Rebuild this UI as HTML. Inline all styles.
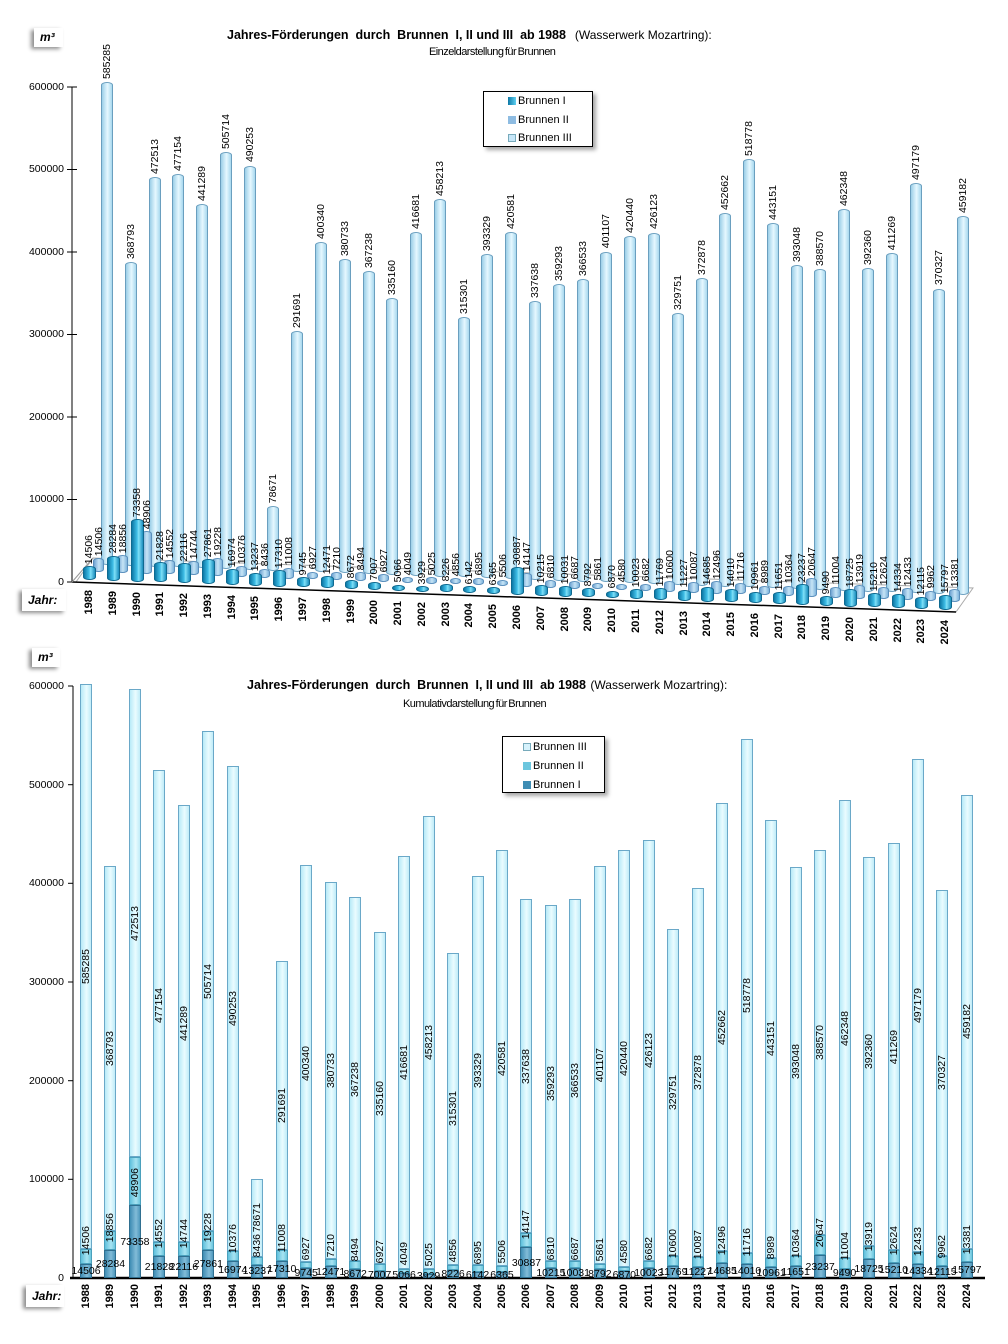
<!DOCTYPE html>
<html><head><meta charset="utf-8">
<style>
*{margin:0;padding:0;box-sizing:border-box}
body{width:1008px;height:1344px;background:#fff;position:relative;overflow:hidden;font-family:"Liberation Sans",Arial,sans-serif;color:#000}
.abs{position:absolute}
.box{position:absolute;background:#fff;box-shadow:-3px 2px 4px rgba(0,0,0,.45);font-style:italic;font-weight:bold}
.tk{position:absolute;font-size:10.5px;width:60px;text-align:right;line-height:12px}
/* top chart */
.g{position:absolute;left:calc(83px + var(--i)*23.78px);top:calc(580px + var(--i)*0.83px);width:0;height:0}
.b{position:absolute;bottom:0;border-radius:6px/3px}
.b1{left:0;width:13px;height:calc(var(--a)*0.000825px + 2px);background:linear-gradient(to right,#0d78a6,#3fbde6 45%,#7fe0f8 60%,#1c8fbe);border:1px solid #0f6a90}
.b2{left:10px;bottom:8px;width:11px;height:calc(var(--b)*0.000825px + 2px);background:linear-gradient(to right,#6fa4d2,#c6e4f6 55%,#7fb4dc);border:1px solid #5a8fbd}
.b3{left:18px;bottom:15px;width:12px;height:calc(var(--c)*0.000825px);background:linear-gradient(to right,#9ccfe8,#e6f8ff 55%,#a8d8ee);border:1px solid #6a9fbf}
.l{position:absolute;writing-mode:vertical-rl;transform:rotate(180deg);font-size:10.5px;line-height:12px;width:12px;white-space:nowrap}
.l1{left:0;bottom:calc(var(--a)*0.000825px + 4px)}
.l2{left:10px;bottom:calc(var(--b)*0.000825px + 12px)}
.l3{left:18px;bottom:calc(var(--c)*0.000825px + 18px)}
.y{position:absolute;writing-mode:vertical-rl;transform:rotate(180deg);font-size:11px;font-weight:bold;line-height:13px;width:13px;left:0;white-space:nowrap}
.g .y{top:10px}
/* bottom chart */
.h{position:absolute;left:calc(80px + var(--i)*24.47px);top:1278px;width:0;height:0}
.s{position:absolute;left:0;width:12px}
.s1{bottom:0;height:calc(var(--a)*0.00099px);background:linear-gradient(to right,#3f8db4,#82bcd8 60%,#4e98bd);border:1px solid #2f6f90}
.s2{bottom:calc(var(--a)*0.00099px);height:calc(var(--b)*0.00099px);background:linear-gradient(to right,#5fc0dc,#a8e4f2 60%,#6cc6de);border:1px solid #4aa0bc}
.s3{bottom:calc((var(--a) + var(--b))*0.00099px);height:calc(var(--c)*0.00099px);background:linear-gradient(to right,#b8eaf8,#eafcff 55%,#c0ecf8);border:1px solid #6aa8c8}
.m{position:absolute;left:0;width:12px;display:flex;align-items:center;justify-content:center}
.m span{writing-mode:vertical-rl;transform:rotate(180deg);font-size:10.5px;line-height:12px;white-space:nowrap}
.m3{bottom:calc((var(--a) + var(--b))*0.00099px);height:calc(var(--c)*0.00099px)}
.m2{bottom:calc(var(--a)*0.00099px + 8px);height:0;align-items:flex-end}
.n{position:absolute;left:-14px;width:40px;text-align:center;font-size:10.5px;line-height:12px;bottom:calc(var(--a)*0.000495px - 6px);white-space:nowrap}
.h .y{top:6px;left:0}
.lg{position:absolute;border:1px solid #000;background:#fff;box-shadow:3px 3px 4px rgba(0,0,0,.35);font-size:11px}
.lg div{position:absolute;left:0;white-space:nowrap}
.sw{display:inline-block;width:8px;height:8px;margin:0 2px 0 0;vertical-align:-1px}
.ti{font-size:12.5px;font-weight:bold}
.tp{font-size:12px}
.st{font-size:11px;letter-spacing:-0.55px;word-spacing:-1px}
</style></head><body>

<!-- ===== TOP CHART ===== -->
<div class="box" style="left:34px;top:28px;width:29px;height:19px;font-size:12px;line-height:19px;padding-left:6px">m³</div>
<div class="abs" style="left:227px;top:26px;white-space:nowrap"><span class="ti">Jahres-Förderungen&nbsp; durch&nbsp; Brunnen&nbsp; I, II und III&nbsp; ab 1988</span>&nbsp;&nbsp;<span class="tp">(Wasserwerk Mozartring):</span></div>
<div class="abs st" style="left:429px;top:46px;white-space:nowrap">Einzeldarstellung für Brunnen</div>

<svg class="abs" style="left:0;top:0" width="1008" height="660">
<polygon points="76,582 956,612 973,588 93,558" fill="none" stroke="#aaa" stroke-width="1"/>
<line x1="72" y1="87" x2="72" y2="582" stroke="#000"/>
<g stroke="#000"><line x1="67" y1="87" x2="77" y2="87"/><line x1="67" y1="169.5" x2="77" y2="169.5"/><line x1="67" y1="252" x2="77" y2="252"/><line x1="67" y1="334.5" x2="77" y2="334.5"/><line x1="67" y1="417" x2="77" y2="417"/><line x1="67" y1="499.5" x2="77" y2="499.5"/><line x1="67" y1="582" x2="72" y2="582"/></g>
<line x1="72" y1="582" x2="956" y2="612" stroke="#000" stroke-width="1.5"/>
<line x1="72" y1="582" x2="93" y2="558" stroke="#999"/>
</svg>
<div class="tk" style="left:4px;top:81px">600000</div>
<div class="tk" style="left:4px;top:163px">500000</div>
<div class="tk" style="left:4px;top:246px">400000</div>
<div class="tk" style="left:4px;top:328px">300000</div>
<div class="tk" style="left:4px;top:411px">200000</div>
<div class="tk" style="left:4px;top:493px">100000</div>
<div class="tk" style="left:4px;top:576px">0</div>
<div class="box" style="left:22px;top:589px;width:44px;height:22px;font-size:12px;line-height:22px;padding-left:6px">Jahr:</div>

<div class="lg" style="left:483px;top:91px;width:110px;height:56px">
<div style="left:24px;top:3px"><span class="sw" style="background:linear-gradient(to right,#0d78a6,#5fd0f0)"></span>Brunnen I</div>
<div style="left:24px;top:22px"><span class="sw" style="background:#8ebce2"></span>Brunnen II</div>
<div style="left:24px;top:40px"><span class="sw" style="background:#c6e6f8;border:1px solid #7ab"></span>Brunnen III</div>
</div>

<div class="g" style="--i:0;--a:14506;--b:14506;--c:585285"><div class="b b3"></div><div class="b b2"></div><div class="b b1"></div><span class="l l3">585285</span><span class="l l2">14506</span><span class="l l1">14506</span><span class="y">1988</span></div>
<div class="g" style="--i:1;--a:28284;--b:18856;--c:368793"><div class="b b3"></div><div class="b b2"></div><div class="b b1"></div><span class="l l3">368793</span><span class="l l2">18856</span><span class="l l1">28284</span><span class="y">1989</span></div>
<div class="g" style="--i:2;--a:73358;--b:48906;--c:472513"><div class="b b3"></div><div class="b b2"></div><div class="b b1"></div><span class="l l3">472513</span><span class="l l2">48906</span><span class="l l1">73358</span><span class="y">1990</span></div>
<div class="g" style="--i:3;--a:21828;--b:14552;--c:477154"><div class="b b3"></div><div class="b b2"></div><div class="b b1"></div><span class="l l3">477154</span><span class="l l2">14552</span><span class="l l1">21828</span><span class="y">1991</span></div>
<div class="g" style="--i:4;--a:22116;--b:14744;--c:441289"><div class="b b3"></div><div class="b b2"></div><div class="b b1"></div><span class="l l3">441289</span><span class="l l2">14744</span><span class="l l1">22116</span><span class="y">1992</span></div>
<div class="g" style="--i:5;--a:27861;--b:19228;--c:505714"><div class="b b3"></div><div class="b b2"></div><div class="b b1"></div><span class="l l3">505714</span><span class="l l2">19228</span><span class="l l1">27861</span><span class="y">1993</span></div>
<div class="g" style="--i:6;--a:16974;--b:10376;--c:490253"><div class="b b3"></div><div class="b b2"></div><div class="b b1"></div><span class="l l3">490253</span><span class="l l2">10376</span><span class="l l1">16974</span><span class="y">1994</span></div>
<div class="g" style="--i:7;--a:13237;--b:8436;--c:78671"><div class="b b3"></div><div class="b b2"></div><div class="b b1"></div><span class="l l3">78671</span><span class="l l2">8436</span><span class="l l1">13237</span><span class="y">1995</span></div>
<div class="g" style="--i:8;--a:17310;--b:11008;--c:291691"><div class="b b3"></div><div class="b b2"></div><div class="b b1"></div><span class="l l3">291691</span><span class="l l2">11008</span><span class="l l1">17310</span><span class="y">1996</span></div>
<div class="g" style="--i:9;--a:9745;--b:6927;--c:400340"><div class="b b3"></div><div class="b b2"></div><div class="b b1"></div><span class="l l3">400340</span><span class="l l2">6927</span><span class="l l1">9745</span><span class="y">1997</span></div>
<div class="g" style="--i:10;--a:12471;--b:7210;--c:380733"><div class="b b3"></div><div class="b b2"></div><div class="b b1"></div><span class="l l3">380733</span><span class="l l2">7210</span><span class="l l1">12471</span><span class="y">1998</span></div>
<div class="g" style="--i:11;--a:8672;--b:8494;--c:367238"><div class="b b3"></div><div class="b b2"></div><div class="b b1"></div><span class="l l3">367238</span><span class="l l2">8494</span><span class="l l1">8672</span><span class="y">1999</span></div>
<div class="g" style="--i:12;--a:7007;--b:6927;--c:335160"><div class="b b3"></div><div class="b b2"></div><div class="b b1"></div><span class="l l3">335160</span><span class="l l2">6927</span><span class="l l1">7007</span><span class="y">2000</span></div>
<div class="g" style="--i:13;--a:5066;--b:4049;--c:416681"><div class="b b3"></div><div class="b b2"></div><div class="b b1"></div><span class="l l3">416681</span><span class="l l2">4049</span><span class="l l1">5066</span><span class="y">2001</span></div>
<div class="g" style="--i:14;--a:3929;--b:5025;--c:458213"><div class="b b3"></div><div class="b b2"></div><div class="b b1"></div><span class="l l3">458213</span><span class="l l2">5025</span><span class="l l1">3929</span><span class="y">2002</span></div>
<div class="g" style="--i:15;--a:8226;--b:4856;--c:315301"><div class="b b3"></div><div class="b b2"></div><div class="b b1"></div><span class="l l3">315301</span><span class="l l2">4856</span><span class="l l1">8226</span><span class="y">2003</span></div>
<div class="g" style="--i:16;--a:6142;--b:6895;--c:393329"><div class="b b3"></div><div class="b b2"></div><div class="b b1"></div><span class="l l3">393329</span><span class="l l2">6895</span><span class="l l1">6142</span><span class="y">2004</span></div>
<div class="g" style="--i:17;--a:6365;--b:5506;--c:420581"><div class="b b3"></div><div class="b b2"></div><div class="b b1"></div><span class="l l3">420581</span><span class="l l2">5506</span><span class="l l1">6365</span><span class="y">2005</span></div>
<div class="g" style="--i:18;--a:30887;--b:14147;--c:337638"><div class="b b3"></div><div class="b b2"></div><div class="b b1"></div><span class="l l3">337638</span><span class="l l2">14147</span><span class="l l1">30887</span><span class="y">2006</span></div>
<div class="g" style="--i:19;--a:10215;--b:6810;--c:359293"><div class="b b3"></div><div class="b b2"></div><div class="b b1"></div><span class="l l3">359293</span><span class="l l2">6810</span><span class="l l1">10215</span><span class="y">2007</span></div>
<div class="g" style="--i:20;--a:10031;--b:6687;--c:366533"><div class="b b3"></div><div class="b b2"></div><div class="b b1"></div><span class="l l3">366533</span><span class="l l2">6687</span><span class="l l1">10031</span><span class="y">2008</span></div>
<div class="g" style="--i:21;--a:8792;--b:5861;--c:401107"><div class="b b3"></div><div class="b b2"></div><div class="b b1"></div><span class="l l3">401107</span><span class="l l2">5861</span><span class="l l1">8792</span><span class="y">2009</span></div>
<div class="g" style="--i:22;--a:6870;--b:4580;--c:420440"><div class="b b3"></div><div class="b b2"></div><div class="b b1"></div><span class="l l3">420440</span><span class="l l2">4580</span><span class="l l1">6870</span><span class="y">2010</span></div>
<div class="g" style="--i:23;--a:10023;--b:6682;--c:426123"><div class="b b3"></div><div class="b b2"></div><div class="b b1"></div><span class="l l3">426123</span><span class="l l2">6682</span><span class="l l1">10023</span><span class="y">2011</span></div>
<div class="g" style="--i:24;--a:11769;--b:10600;--c:329751"><div class="b b3"></div><div class="b b2"></div><div class="b b1"></div><span class="l l3">329751</span><span class="l l2">10600</span><span class="l l1">11769</span><span class="y">2012</span></div>
<div class="g" style="--i:25;--a:11227;--b:10087;--c:372878"><div class="b b3"></div><div class="b b2"></div><div class="b b1"></div><span class="l l3">372878</span><span class="l l2">10087</span><span class="l l1">11227</span><span class="y">2013</span></div>
<div class="g" style="--i:26;--a:14685;--b:12496;--c:452662"><div class="b b3"></div><div class="b b2"></div><div class="b b1"></div><span class="l l3">452662</span><span class="l l2">12496</span><span class="l l1">14685</span><span class="y">2014</span></div>
<div class="g" style="--i:27;--a:14010;--b:11716;--c:518778"><div class="b b3"></div><div class="b b2"></div><div class="b b1"></div><span class="l l3">518778</span><span class="l l2">11716</span><span class="l l1">14010</span><span class="y">2015</span></div>
<div class="g" style="--i:28;--a:10961;--b:8989;--c:443151"><div class="b b3"></div><div class="b b2"></div><div class="b b1"></div><span class="l l3">443151</span><span class="l l2">8989</span><span class="l l1">10961</span><span class="y">2016</span></div>
<div class="g" style="--i:29;--a:11651;--b:10364;--c:393048"><div class="b b3"></div><div class="b b2"></div><div class="b b1"></div><span class="l l3">393048</span><span class="l l2">10364</span><span class="l l1">11651</span><span class="y">2017</span></div>
<div class="g" style="--i:30;--a:23237;--b:20647;--c:388570"><div class="b b3"></div><div class="b b2"></div><div class="b b1"></div><span class="l l3">388570</span><span class="l l2">20647</span><span class="l l1">23237</span><span class="y">2018</span></div>
<div class="g" style="--i:31;--a:9490;--b:11004;--c:462348"><div class="b b3"></div><div class="b b2"></div><div class="b b1"></div><span class="l l3">462348</span><span class="l l2">11004</span><span class="l l1">9490</span><span class="y">2019</span></div>
<div class="g" style="--i:32;--a:18725;--b:13919;--c:392360"><div class="b b3"></div><div class="b b2"></div><div class="b b1"></div><span class="l l3">392360</span><span class="l l2">13919</span><span class="l l1">18725</span><span class="y">2020</span></div>
<div class="g" style="--i:33;--a:15210;--b:12624;--c:411269"><div class="b b3"></div><div class="b b2"></div><div class="b b1"></div><span class="l l3">411269</span><span class="l l2">12624</span><span class="l l1">15210</span><span class="y">2021</span></div>
<div class="g" style="--i:34;--a:14334;--b:12433;--c:497179"><div class="b b3"></div><div class="b b2"></div><div class="b b1"></div><span class="l l3">497179</span><span class="l l2">12433</span><span class="l l1">14334</span><span class="y">2022</span></div>
<div class="g" style="--i:35;--a:12115;--b:9962;--c:370327"><div class="b b3"></div><div class="b b2"></div><div class="b b1"></div><span class="l l3">370327</span><span class="l l2">9962</span><span class="l l1">12115</span><span class="y">2023</span></div>
<div class="g" style="--i:36;--a:15797;--b:13381;--c:459182"><div class="b b3"></div><div class="b b2"></div><div class="b b1"></div><span class="l l3">459182</span><span class="l l2">13381</span><span class="l l1">15797</span><span class="y">2024</span></div>

<!-- ===== BOTTOM CHART ===== -->
<div class="box" style="left:32px;top:648px;width:28px;height:19px;font-size:12px;line-height:19px;padding-left:6px">m³</div>
<div class="abs" style="left:247px;top:676px;white-space:nowrap"><span class="ti">Jahres-Förderungen&nbsp; durch&nbsp; Brunnen&nbsp; I, II und III&nbsp; ab 1988</span> <span class="tp">(Wasserwerk Mozartring):</span></div>
<div class="abs st" style="left:403px;top:698px;white-space:nowrap">Kumulativdarstellung für Brunnen</div>

<svg class="abs" style="left:0;top:660px" width="1008" height="640">
<line x1="73" y1="26" x2="73" y2="618" stroke="#000"/>
<g stroke="#000"><line x1="68" y1="26" x2="73" y2="26"/><line x1="68" y1="124.7" x2="73" y2="124.7"/><line x1="68" y1="223.3" x2="73" y2="223.3"/><line x1="68" y1="322" x2="73" y2="322"/><line x1="68" y1="420.7" x2="73" y2="420.7"/><line x1="68" y1="519.3" x2="73" y2="519.3"/></g>
<line x1="70" y1="618" x2="985" y2="618" stroke="#000" stroke-width="2.5"/>
</svg>
<div class="tk" style="left:4px;top:680px">600000</div>
<div class="tk" style="left:4px;top:779px">500000</div>
<div class="tk" style="left:4px;top:877px">400000</div>
<div class="tk" style="left:4px;top:976px">300000</div>
<div class="tk" style="left:4px;top:1075px">200000</div>
<div class="tk" style="left:4px;top:1173px">100000</div>
<div class="tk" style="left:4px;top:1272px">0</div>
<div class="box" style="left:26px;top:1285px;width:38px;height:22px;font-size:12px;line-height:22px;padding-left:6px">Jahr:</div>

<div class="lg" style="left:502px;top:736px;width:103px;height:57px">
<div style="left:20px;top:4px"><span class="sw" style="background:#d6f2fc;border:1px solid #7ab"></span>Brunnen III</div>
<div style="left:20px;top:23px"><span class="sw" style="background:#6cc6de"></span>Brunnen II</div>
<div style="left:20px;top:42px"><span class="sw" style="background:#3f8db4"></span>Brunnen I</div>
</div>

<div class="h" style="--i:0;--a:14506;--b:14506;--c:570988"><div class="s s1"></div><div class="s s2"></div><div class="s s3"></div><div class="m m3"><span>585285</span></div><div class="m m2"><span>14506</span></div><span class="n">14506</span><span class="y">1988</span></div>
<div class="h" style="--i:1;--a:28284;--b:18856;--c:368793"><div class="s s1"></div><div class="s s2"></div><div class="s s3"></div><div class="m m3"><span>368793</span></div><div class="m m2"><span>18856</span></div><span class="n">28284</span><span class="y">1989</span></div>
<div class="h" style="--i:2;--a:73358;--b:48906;--c:472513"><div class="s s1"></div><div class="s s2"></div><div class="s s3"></div><div class="m m3"><span>472513</span></div><div class="m m2"><span>48906</span></div><span class="n">73358</span><span class="y">1990</span></div>
<div class="h" style="--i:3;--a:21828;--b:14552;--c:477154"><div class="s s1"></div><div class="s s2"></div><div class="s s3"></div><div class="m m3"><span>477154</span></div><div class="m m2"><span>14552</span></div><span class="n">21828</span><span class="y">1991</span></div>
<div class="h" style="--i:4;--a:22116;--b:14744;--c:441289"><div class="s s1"></div><div class="s s2"></div><div class="s s3"></div><div class="m m3"><span>441289</span></div><div class="m m2"><span>14744</span></div><span class="n">22116</span><span class="y">1992</span></div>
<div class="h" style="--i:5;--a:27861;--b:19228;--c:505714"><div class="s s1"></div><div class="s s2"></div><div class="s s3"></div><div class="m m3"><span>505714</span></div><div class="m m2"><span>19228</span></div><span class="n">27861</span><span class="y">1993</span></div>
<div class="h" style="--i:6;--a:16974;--b:10376;--c:490253"><div class="s s1"></div><div class="s s2"></div><div class="s s3"></div><div class="m m3"><span>490253</span></div><div class="m m2"><span>10376</span></div><span class="n">16974</span><span class="y">1994</span></div>
<div class="h" style="--i:7;--a:13237;--b:8436;--c:78671"><div class="s s1"></div><div class="s s2"></div><div class="s s3"></div><div class="m m3"><span>78671</span></div><div class="m m2"><span>8436</span></div><span class="n">13237</span><span class="y">1995</span></div>
<div class="h" style="--i:8;--a:17310;--b:11008;--c:291691"><div class="s s1"></div><div class="s s2"></div><div class="s s3"></div><div class="m m3"><span>291691</span></div><div class="m m2"><span>11008</span></div><span class="n">17310</span><span class="y">1996</span></div>
<div class="h" style="--i:9;--a:9745;--b:6927;--c:400340"><div class="s s1"></div><div class="s s2"></div><div class="s s3"></div><div class="m m3"><span>400340</span></div><div class="m m2"><span>6927</span></div><span class="n">9745</span><span class="y">1997</span></div>
<div class="h" style="--i:10;--a:12471;--b:7210;--c:380733"><div class="s s1"></div><div class="s s2"></div><div class="s s3"></div><div class="m m3"><span>380733</span></div><div class="m m2"><span>7210</span></div><span class="n">12471</span><span class="y">1998</span></div>
<div class="h" style="--i:11;--a:8672;--b:8494;--c:367238"><div class="s s1"></div><div class="s s2"></div><div class="s s3"></div><div class="m m3"><span>367238</span></div><div class="m m2"><span>8494</span></div><span class="n">8672</span><span class="y">1999</span></div>
<div class="h" style="--i:12;--a:7007;--b:6927;--c:335160"><div class="s s1"></div><div class="s s2"></div><div class="s s3"></div><div class="m m3"><span>335160</span></div><div class="m m2"><span>6927</span></div><span class="n">7007</span><span class="y">2000</span></div>
<div class="h" style="--i:13;--a:5066;--b:4049;--c:416681"><div class="s s1"></div><div class="s s2"></div><div class="s s3"></div><div class="m m3"><span>416681</span></div><div class="m m2"><span>4049</span></div><span class="n">5066</span><span class="y">2001</span></div>
<div class="h" style="--i:14;--a:3929;--b:5025;--c:458213"><div class="s s1"></div><div class="s s2"></div><div class="s s3"></div><div class="m m3"><span>458213</span></div><div class="m m2"><span>5025</span></div><span class="n">3929</span><span class="y">2002</span></div>
<div class="h" style="--i:15;--a:8226;--b:4856;--c:315301"><div class="s s1"></div><div class="s s2"></div><div class="s s3"></div><div class="m m3"><span>315301</span></div><div class="m m2"><span>4856</span></div><span class="n">8226</span><span class="y">2003</span></div>
<div class="h" style="--i:16;--a:6142;--b:6895;--c:393329"><div class="s s1"></div><div class="s s2"></div><div class="s s3"></div><div class="m m3"><span>393329</span></div><div class="m m2"><span>6895</span></div><span class="n">6142</span><span class="y">2004</span></div>
<div class="h" style="--i:17;--a:6365;--b:5506;--c:420581"><div class="s s1"></div><div class="s s2"></div><div class="s s3"></div><div class="m m3"><span>420581</span></div><div class="m m2"><span>5506</span></div><span class="n">6365</span><span class="y">2005</span></div>
<div class="h" style="--i:18;--a:30887;--b:14147;--c:337638"><div class="s s1"></div><div class="s s2"></div><div class="s s3"></div><div class="m m3"><span>337638</span></div><div class="m m2"><span>14147</span></div><span class="n">30887</span><span class="y">2006</span></div>
<div class="h" style="--i:19;--a:10215;--b:6810;--c:359293"><div class="s s1"></div><div class="s s2"></div><div class="s s3"></div><div class="m m3"><span>359293</span></div><div class="m m2"><span>6810</span></div><span class="n">10215</span><span class="y">2007</span></div>
<div class="h" style="--i:20;--a:10031;--b:6687;--c:366533"><div class="s s1"></div><div class="s s2"></div><div class="s s3"></div><div class="m m3"><span>366533</span></div><div class="m m2"><span>6687</span></div><span class="n">10031</span><span class="y">2008</span></div>
<div class="h" style="--i:21;--a:8792;--b:5861;--c:401107"><div class="s s1"></div><div class="s s2"></div><div class="s s3"></div><div class="m m3"><span>401107</span></div><div class="m m2"><span>5861</span></div><span class="n">8792</span><span class="y">2009</span></div>
<div class="h" style="--i:22;--a:6870;--b:4580;--c:420440"><div class="s s1"></div><div class="s s2"></div><div class="s s3"></div><div class="m m3"><span>420440</span></div><div class="m m2"><span>4580</span></div><span class="n">6870</span><span class="y">2010</span></div>
<div class="h" style="--i:23;--a:10023;--b:6682;--c:426123"><div class="s s1"></div><div class="s s2"></div><div class="s s3"></div><div class="m m3"><span>426123</span></div><div class="m m2"><span>6682</span></div><span class="n">10023</span><span class="y">2011</span></div>
<div class="h" style="--i:24;--a:11769;--b:10600;--c:329751"><div class="s s1"></div><div class="s s2"></div><div class="s s3"></div><div class="m m3"><span>329751</span></div><div class="m m2"><span>10600</span></div><span class="n">11769</span><span class="y">2012</span></div>
<div class="h" style="--i:25;--a:11227;--b:10087;--c:372878"><div class="s s1"></div><div class="s s2"></div><div class="s s3"></div><div class="m m3"><span>372878</span></div><div class="m m2"><span>10087</span></div><span class="n">11227</span><span class="y">2013</span></div>
<div class="h" style="--i:26;--a:14685;--b:12496;--c:452662"><div class="s s1"></div><div class="s s2"></div><div class="s s3"></div><div class="m m3"><span>452662</span></div><div class="m m2"><span>12496</span></div><span class="n">14685</span><span class="y">2014</span></div>
<div class="h" style="--i:27;--a:14010;--b:11716;--c:518778"><div class="s s1"></div><div class="s s2"></div><div class="s s3"></div><div class="m m3"><span>518778</span></div><div class="m m2"><span>11716</span></div><span class="n">14010</span><span class="y">2015</span></div>
<div class="h" style="--i:28;--a:10961;--b:8989;--c:443151"><div class="s s1"></div><div class="s s2"></div><div class="s s3"></div><div class="m m3"><span>443151</span></div><div class="m m2"><span>8989</span></div><span class="n">10961</span><span class="y">2016</span></div>
<div class="h" style="--i:29;--a:11651;--b:10364;--c:393048"><div class="s s1"></div><div class="s s2"></div><div class="s s3"></div><div class="m m3"><span>393048</span></div><div class="m m2"><span>10364</span></div><span class="n">11651</span><span class="y">2017</span></div>
<div class="h" style="--i:30;--a:23237;--b:20647;--c:388570"><div class="s s1"></div><div class="s s2"></div><div class="s s3"></div><div class="m m3"><span>388570</span></div><div class="m m2"><span>20647</span></div><span class="n">23237</span><span class="y">2018</span></div>
<div class="h" style="--i:31;--a:9490;--b:11004;--c:462348"><div class="s s1"></div><div class="s s2"></div><div class="s s3"></div><div class="m m3"><span>462348</span></div><div class="m m2"><span>11004</span></div><span class="n">9490</span><span class="y">2019</span></div>
<div class="h" style="--i:32;--a:18725;--b:13919;--c:392360"><div class="s s1"></div><div class="s s2"></div><div class="s s3"></div><div class="m m3"><span>392360</span></div><div class="m m2"><span>13919</span></div><span class="n">18725</span><span class="y">2020</span></div>
<div class="h" style="--i:33;--a:15210;--b:12624;--c:411269"><div class="s s1"></div><div class="s s2"></div><div class="s s3"></div><div class="m m3"><span>411269</span></div><div class="m m2"><span>12624</span></div><span class="n">15210</span><span class="y">2021</span></div>
<div class="h" style="--i:34;--a:14334;--b:12433;--c:497179"><div class="s s1"></div><div class="s s2"></div><div class="s s3"></div><div class="m m3"><span>497179</span></div><div class="m m2"><span>12433</span></div><span class="n">14334</span><span class="y">2022</span></div>
<div class="h" style="--i:35;--a:12115;--b:9962;--c:370327"><div class="s s1"></div><div class="s s2"></div><div class="s s3"></div><div class="m m3"><span>370327</span></div><div class="m m2"><span>9962</span></div><span class="n">12115</span><span class="y">2023</span></div>
<div class="h" style="--i:36;--a:15797;--b:13381;--c:459182"><div class="s s1"></div><div class="s s2"></div><div class="s s3"></div><div class="m m3"><span>459182</span></div><div class="m m2"><span>13381</span></div><span class="n">15797</span><span class="y">2024</span></div>

</body></html>
